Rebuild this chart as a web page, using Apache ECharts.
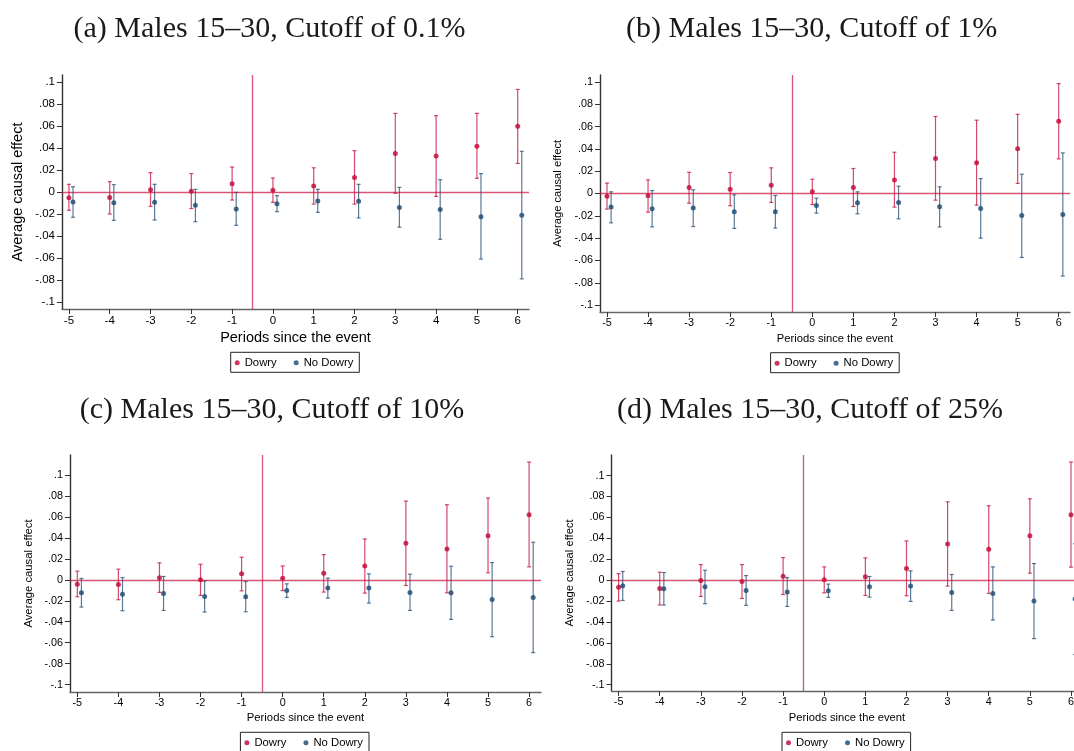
<!DOCTYPE html>
<html>
<head>
<meta charset="utf-8">
<script src="https://cdn.jsdelivr.net/npm/echarts@6/dist/echarts.min.js"></script>
<style>
html,body{margin:0;padding:0;background:#fff;overflow:hidden;}
#chart{width:1090px;height:751px;}
</style>
</head>
<body>
<div id="chart"></div>
<script>
// ---------- data ----------
const periods = [-5, -4, -3, -2, -1, 0, 1, 2, 3, 4, 5, 6];
const yTicks = [-0.1, -0.08, -0.06, -0.04, -0.02, 0, 0.02, 0.04, 0.06, 0.08, 0.1];
const seriesNames = ['Dowry', 'No Dowry'];
const titles = ['(a) Males 15\u201330, Cutoff of 0.1%', '(b) Males 15\u201330, Cutoff of 1%',
                '(c) Males 15\u201330, Cutoff of 10%', '(d) Males 15\u201330, Cutoff of 25%'];

// (a) cutoff 0.1%
const aDowry   = [-0.0052, -0.0050, 0.0020, 0.0006, 0.0076, 0.0015, 0.0055, 0.0133, 0.0350, 0.0327, 0.0415, 0.0597];
const aDowryLo = [-0.0167, -0.0200, -0.0130, -0.0150, -0.0073, -0.0094, -0.0110, -0.0110, -0.0012, -0.0040, 0.0124, 0.0260];
const aDowryHi = [0.0070, 0.0094, 0.0176, 0.0167, 0.0227, 0.0127, 0.0220, 0.0376, 0.0715, 0.0694, 0.0715, 0.0933];
const aNo      = [-0.0091, -0.0097, -0.0094, -0.0121, -0.0155, -0.0106, -0.0082, -0.0085, -0.0142, -0.0160, -0.0224, -0.0212];
const aNoLo    = [-0.0230, -0.0258, -0.0255, -0.0270, -0.0303, -0.0179, -0.0185, -0.0236, -0.0320, -0.0430, -0.0610, -0.0790];
const aNoHi    = [0.0048, 0.0067, 0.0070, 0.0024, -0.0003, -0.0033, 0.0024, 0.0070, 0.0042, 0.0112, 0.0167, 0.0370];

// (b) cutoff 1%
const bDowry   = [-0.0024, -0.0021, 0.0054, 0.0039, 0.0075, 0.0015, 0.0054, 0.0122, 0.0313, 0.0275, 0.0400, 0.0648];
const bDowryLo = [-0.0140, -0.0167, -0.0087, -0.0110, -0.0080, -0.0099, -0.0116, -0.0122, -0.0060, -0.0104, 0.0090, 0.0310];
const bDowryHi = [0.0093, 0.0122, 0.0190, 0.0188, 0.0230, 0.0128, 0.0224, 0.0370, 0.0690, 0.0657, 0.0710, 0.0985];
const bNo      = [-0.0122, -0.0137, -0.0131, -0.0164, -0.0164, -0.0107, -0.0084, -0.0081, -0.0119, -0.0134, -0.0197, -0.0188];
const bNoLo    = [-0.0263, -0.0299, -0.0296, -0.0313, -0.0310, -0.0176, -0.0182, -0.0227, -0.0300, -0.0400, -0.0573, -0.0740];
const bNoHi    = [0.0015, 0.0027, 0.0033, -0.0012, -0.0018, -0.0042, 0.0015, 0.0066, 0.0060, 0.0134, 0.0173, 0.0364];

// (c) cutoff 10%
const cDowry   = [-0.0041, -0.0044, 0.0019, 0.0000, 0.0057, 0.0016, 0.0063, 0.0133, 0.0349, 0.0295, 0.0422, 0.0622];
const cDowryLo = [-0.0162, -0.0190, -0.0120, -0.0149, -0.0105, -0.0102, -0.0117, -0.0127, -0.0054, -0.0124, 0.0067, 0.0124];
const cDowryHi = [0.0083, 0.0102, 0.0162, 0.0149, 0.0216, 0.0133, 0.0241, 0.0390, 0.0752, 0.0717, 0.0781, 0.1124];
const cNo      = [-0.0124, -0.0137, -0.0130, -0.0159, -0.0162, -0.0102, -0.0079, -0.0079, -0.0121, -0.0124, -0.0187, -0.0168];
const cNoLo    = [-0.0260, -0.0295, -0.0292, -0.0308, -0.0305, -0.0168, -0.0175, -0.0222, -0.0292, -0.0378, -0.0543, -0.0695];
const cNoHi    = [0.0013, 0.0022, 0.0032, -0.0010, -0.0016, -0.0038, 0.0016, 0.0057, 0.0054, 0.0130, 0.0165, 0.0359];

// (d) cutoff 25%
const dDowry   = [-0.0067, -0.0079, -0.0003, -0.0013, 0.0038, 0.0003, 0.0032, 0.0111, 0.0346, 0.0295, 0.0425, 0.0625];
const dDowryLo = [-0.0200, -0.0238, -0.0156, -0.0175, -0.0137, -0.0121, -0.0146, -0.0149, -0.0057, -0.0127, 0.0067, 0.0124];
const dDowryHi = [0.0063, 0.0076, 0.0149, 0.0149, 0.0216, 0.0127, 0.0213, 0.0375, 0.0749, 0.0711, 0.0778, 0.1130];
const dNo      = [-0.0054, -0.0083, -0.0063, -0.0098, -0.0114, -0.0102, -0.0063, -0.0057, -0.0117, -0.0127, -0.0200, -0.0181];
const dNoLo    = [-0.0194, -0.0238, -0.0225, -0.0241, -0.0251, -0.0165, -0.0162, -0.0203, -0.0289, -0.0381, -0.0559, -0.0711];
const dNoHi    = [0.0083, 0.0073, 0.0095, 0.0044, 0.0025, -0.0038, 0.0035, 0.0089, 0.0054, 0.0127, 0.0159, 0.0349];

// ---------- layout / style ----------
const panels = [
  {d:[aDowry,aDowryLo,aDowryHi,aNo,aNoLo,aNoHi], grid:{left:62,top:75,width:467,height:234}, x:[-5.17,6.277], y:[-0.1064,0.1064],
   title:[269.5,29], tick:11.5, name:14.5, xGap:21, yGap:36.5, legend:[230.7,352.3]},
  {d:[bDowry,bDowryLo,bDowryHi,bNo,bNoLo,bNoHi], grid:{left:600,top:75,width:470,height:237}, x:[-5.17,6.275], y:[-0.1062,0.1062],
   title:[811.6,29], tick:10.8, name:11.2, xGap:21.4, yGap:36.3, legend:[770.6,352.7]},
  {d:[cDowry,cDowryLo,cDowryHi,cNo,cNoLo,cNoHi], grid:{left:70,top:455,width:471,height:237}, x:[-5.178,6.29], y:[-0.1071,0.1192],
   title:[272,410], tick:10.8, name:11.3, xGap:20.4, yGap:35.5, legend:[240.4,732.3]},
  {d:[dDowry,dDowryLo,dDowryHi,dNo,dNoLo,dNoHi], grid:{left:611.5,top:455,width:471,height:236}, x:[-5.173,6.28], y:[-0.106,0.1197],
   title:[810,410], tick:10.8, name:11.2, xGap:21, yGap:36.1, legend:[782,732.3]}
];
const dodge = 0.1;
const colDowry = '#c10534', colNo = '#1a476f';
const barDowry = 'rgba(193,5,52,0.72)', barNo = 'rgba(26,71,111,0.72)';
const refLine = 'rgba(200,20,65,0.72)';

function stataFmt(v) {
  if (Math.abs(v) < 1e-9) return '0';
  const s = String(+v.toFixed(4));
  return s.replace('0.', '.');
}

function errRender(params, api) {
  const x = api.value(0), lo = api.value(1), hi = api.value(2);
  const p1 = api.coord([x, lo]), p2 = api.coord([x, hi]);
  const c = 2;
  const st = {stroke: api.visual('color'), lineWidth: 1.2};
  return {type: 'group', children: [
    {type: 'line', shape: {x1: p1[0], y1: p1[1], x2: p2[0], y2: p2[1]}, style: st},
    {type: 'line', shape: {x1: p1[0]-c, y1: p1[1], x2: p1[0]+c, y2: p1[1]}, style: st},
    {type: 'line', shape: {x1: p2[0]-c, y1: p2[1], x2: p2[0]+c, y2: p2[1]}, style: st}
  ]};
}

const option = {
  animation: false,
  backgroundColor: '#fff',
  grid: [], xAxis: [], yAxis: [], series: [], legend: [], graphic: []
};

panels.forEach((p, i) => {
  const [dw, dwLo, dwHi, nd, ndLo, ndHi] = p.d;
  option.grid.push(Object.assign({containLabel: false}, p.grid));
  option.xAxis.push({
    type: 'value', gridIndex: i, min: p.x[0], max: p.x[1],
    name: 'Periods since the event', nameLocation: 'middle', nameGap: p.xGap,
    nameTextStyle: {fontFamily: 'Liberation Sans', fontSize: p.name, color: '#000'},
    axisLine: {show: true, onZero: false, lineStyle: {color: '#666', width: 1.4}},
    axisTick: {show: true, length: 5, customValues: periods, lineStyle: {color: '#333'}},
    axisLabel: {customValues: periods, margin: 6, fontFamily: 'Liberation Sans', fontSize: p.tick, color: '#000'},
    splitLine: {show: false}
  });
  option.yAxis.push({
    type: 'value', gridIndex: i, min: p.y[0], max: p.y[1],
    name: 'Average causal effect', nameLocation: 'middle', nameGap: p.yGap, nameRotate: 90,
    nameTextStyle: {fontFamily: 'Liberation Sans', fontSize: p.name, color: '#000'},
    axisLine: {show: true, onZero: false, lineStyle: {color: '#333', width: 1.4}},
    axisTick: {show: true, length: 5, customValues: yTicks, lineStyle: {color: '#333'}},
    axisLabel: {customValues: yTicks, margin: 7, formatter: stataFmt, fontFamily: 'Liberation Sans', fontSize: p.tick, color: '#000'},
    splitLine: {show: false}
  });
  option.series.push({
    type: 'custom', name: 'Dowry CI', xAxisIndex: i, yAxisIndex: i, clip: true,
    itemStyle: {color: barDowry}, renderItem: errRender, encode: {x: 0, y: [1, 2]},
    data: periods.map((x, k) => [x, dwLo[k], dwHi[k]])
  });
  option.series.push({
    type: 'custom', name: 'No Dowry CI', xAxisIndex: i, yAxisIndex: i, clip: true,
    itemStyle: {color: barNo}, renderItem: errRender, encode: {x: 0, y: [1, 2]},
    data: periods.map((x, k) => [x + dodge, ndLo[k], ndHi[k]])
  });
  option.series.push({
    type: 'scatter', name: 'Dowry', xAxisIndex: i, yAxisIndex: i, symbol: 'circle', symbolSize: 5,
    itemStyle: {color: colDowry}, z: 3,
    data: periods.map((x, k) => [x, dw[k]]),
    markLine: {silent: true, symbol: ['none', 'none'], label: {show: false},
      lineStyle: {color: refLine, width: 1.3, type: 'solid'},
      emphasis: {disabled: true},
      data: [{yAxis: 0}, {xAxis: -0.5}]}
  });
  option.series.push({
    type: 'scatter', name: 'No Dowry', xAxisIndex: i, yAxisIndex: i, symbol: 'circle', symbolSize: 5,
    itemStyle: {color: colNo}, z: 3,
    data: periods.map((x, k) => [x + dodge, nd[k]])
  });
  option.legend.push({
    data: seriesNames, left: p.legend[0], top: p.legend[1], orient: 'horizontal',
    icon: 'circle', itemWidth: 5, itemHeight: 5, itemGap: 17,
    padding: [5, 6, 4, 4], borderColor: '#222', borderWidth: 1, borderRadius: 0,
    selectedMode: false,
    textStyle: {fontFamily: 'Liberation Sans', fontSize: 11.3, color: '#000', padding: [0, 0, 0, 0]}
  });
  option.graphic.push({
    type: 'text', x: p.title[0], y: p.title[1],
    style: {text: titles[i], fontFamily: 'Liberation Serif', fontSize: 30, fill: '#1a1a1a',
            align: 'center', verticalAlign: 'middle'}
  });
});

const chart = echarts.init(document.getElementById('chart'), null, {renderer: 'canvas'});
chart.setOption(option);
</script>
</body>
</html>
